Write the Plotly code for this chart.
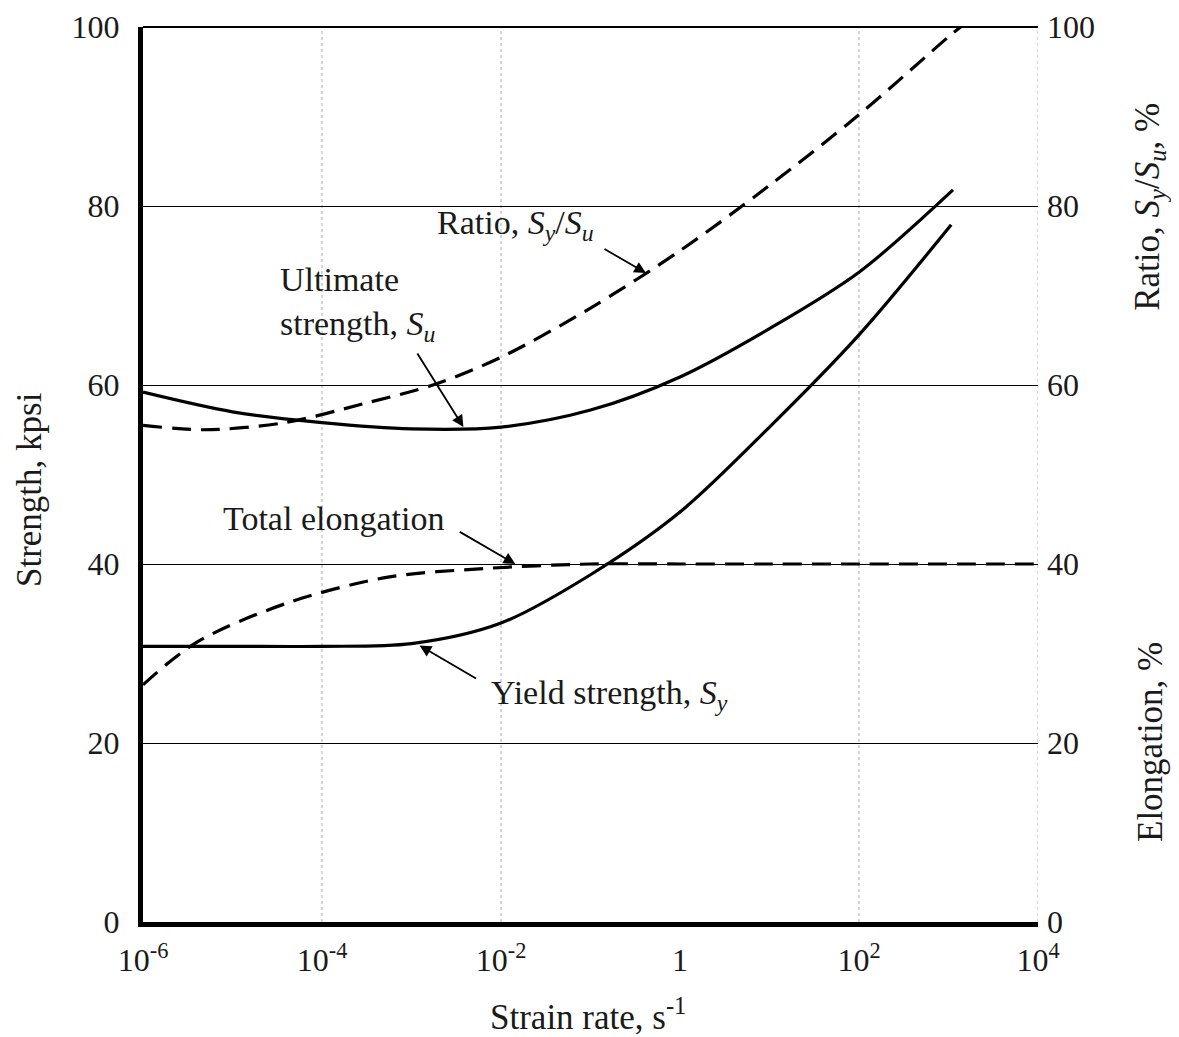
import numpy as np
import plotly.graph_objects as go

# ---- data (strain rate given as log10 exponents) ----
su_exp = [-6, -5, -4, -3, -2, -1, 0, 1, 2, 3.05]
su_val = [59.2, 57.0, 55.8, 55.1, 55.3, 57.2, 60.9, 66.3, 72.6, 81.8]

sy_exp = [-6, -5, -4, -3, -2, -1, 0, 1, 2, 3.03]
sy_val = [30.8, 30.8, 30.8, 31.1, 33.4, 38.8, 45.8, 55.3, 65.6, 77.9]

ratio_exp = [-6, -5.33, -4.44, -3.5, -2.76, -2, -1, 0, 1, 2, 3, 3.16]
ratio_val = [55.5, 55.0, 55.75, 58.0, 60.0, 63.1, 68.6, 75.0, 82.3, 90.2, 98.9, 100.2]

elong_exp = [-6, -5.41, -4.4, -3.28, -2.17, -1, 0, 1, 2, 3, 4]
elong_val = [26.5, 31.2, 35.6, 38.5, 39.5, 40.0, 40.0, 40.0, 40.0, 40.0, 40.0]

x_tick_vals = [1e-6, 1e-4, 1e-2, 1, 1e2, 1e4]
x_tick_text = ["10<sup>-6</sup>", "10<sup>-4</sup>", "10<sup>-2</sup>", "1", "10<sup>2</sup>", "10<sup>4</sup>"]
y_ticks = [0, 20, 40, 60, 80, 100]
vgrid_rates = [1e-4, 1e-2, 1e2, 1e4]

FONT = "Liberation Serif"
TXT = "#1a1a1a"

def rate(e):
    return np.power(10.0, np.array(e, dtype=float))

fig = go.Figure()
solid = dict(color="black", width=3.2, shape="spline", smoothing=0.9)
dashed = dict(color="black", width=3.2, shape="spline", smoothing=0.9, dash="19px,10px")
fig.add_trace(go.Scatter(x=rate(su_exp), y=su_val, mode="lines", line=solid,
                         showlegend=False, hoverinfo="skip"))
fig.add_trace(go.Scatter(x=rate(sy_exp), y=sy_val, mode="lines", line=solid,
                         showlegend=False, hoverinfo="skip"))
fig.add_trace(go.Scatter(x=rate(ratio_exp), y=ratio_val, mode="lines", yaxis="y2", line=dashed,
                         showlegend=False, hoverinfo="skip"))
fig.add_trace(go.Scatter(x=rate(elong_exp), y=elong_val, mode="lines", yaxis="y2", line=dashed,
                         showlegend=False, hoverinfo="skip"))

shapes = []
for r in vgrid_rates:
    shapes.append(dict(type="line", xref="x", yref="paper", x0=r, x1=r, y0=0, y1=1,
                       line=dict(color="#c8c8c8", width=1.5, dash="dot"), layer="below"))
shapes.append(dict(type="line", xref="paper", yref="paper", x0=0, x1=1, y0=1, y1=1,
                   line=dict(color="black", width=2)))

ann = []
def label(xe, y, text, align="center", xanchor="center", size=34):
    ann.append(dict(x=xe, y=y, xref="x", yref="y", text=text, showarrow=False, align=align,
                    xanchor=xanchor, yanchor="middle", font=dict(family=FONT, size=size, color=TXT)))
def arrow(xe, y, ax, ay):
    ann.append(dict(x=xe, y=y, xref="x", yref="y", text="", showarrow=True, ax=ax, ay=ay,
                    arrowhead=2, arrowsize=1.3, arrowwidth=1.8, arrowcolor="black"))

SY = "<i>S<sub>y</sub></i>"
SU = "<i>S<sub>u</sub></i>"
label(-1.84, 77.9, "Ratio, " + SY + "/" + SU)
arrow(-0.38, 72.5, -43, -25)
label(-4.49, 69.0, "Ultimate<br>strength, " + SU, align="left", xanchor="left")
arrow(-2.42, 55.3, -47, -75)
label(-3.87, 45.1, "Total elongation")
arrow(-1.84, 40.0, -57, -33)
label(-0.79, 25.4, "Yield strength, " + SY)
arrow(-2.91, 30.9, 58, 34)

# axis titles
tfont = dict(family=FONT, size=35, color=TXT)
def title(x, y, text, angle=0):
    ann.append(dict(x=x, y=y, xref="paper", yref="paper", text=text, textangle=angle,
                    xanchor="center", yanchor="middle", showarrow=False, font=tfont))
title(-0.127, 0.483, "Strength, kpsi", -90)
title(0.497, -0.103, "Strain rate, s<sup>-1</sup>")
title(1.125, 0.799, "Ratio, " + SY + "/" + SU + ", %", -90)
title(1.125, 0.201, "Elongation, %", -90)

tick_font = dict(family=FONT, size=32, color=TXT)
fig.update_layout(
    width=1179, height=1037,
    margin=dict(l=135, r=149, t=19, b=123, autoexpand=False),
    paper_bgcolor="white", plot_bgcolor="white",
    shapes=shapes, annotations=ann,
    xaxis=dict(type="log", range=[-6, 4], tickvals=x_tick_vals, ticktext=x_tick_text,
               showgrid=False, zeroline=False, showline=True, linewidth=5, linecolor="black",
               ticks="", ticklabelstandoff=6, tickfont=tick_font, ticklabeloverflow="allow",
               automargin=False),
    yaxis=dict(range=[0, 100], tickvals=y_ticks, showgrid=True, gridcolor="black", gridwidth=1.4,
               zeroline=False, showline=True, linewidth=5, linecolor="black", ticks="",
               ticklabelstandoff=12, tickfont=tick_font, ticklabeloverflow="allow",
               automargin=False),
    yaxis2=dict(range=[0, 100], tickvals=y_ticks, overlaying="y", side="right", showgrid=False,
                zeroline=False, showline=False, ticks="", ticklabelstandoff=8, tickfont=tick_font,
                ticklabeloverflow="allow", automargin=False),
)

fig.write_html("out.html")
